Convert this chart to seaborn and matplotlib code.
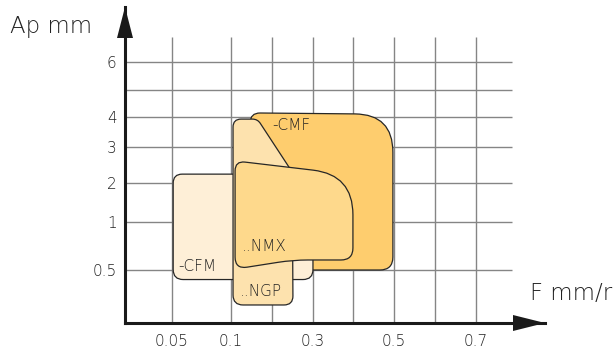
import numpy as np
import matplotlib
matplotlib.use("Agg")
import matplotlib.pyplot as plt
import seaborn as sns
from matplotlib.path import Path
from matplotlib.patches import PathPatch, Polygon

sns.set_theme(style="white")
plt.rcParams['font.family'] = ['DejaVu Sans']
plt.rcParams['font.weight'] = 'light'

# ---------------- data ----------------
feed_ticks = [0.05, 0.1, 0.3, 0.5, 0.7]
feed_tick_labels = ["0.05", "0.1", "0.3", "0.5", "0.7"]
depth_ticks = [0.5, 1, 2, 3, 4, 6]
depth_tick_labels = ["0.5", "1", "2", "3", "4", "6"]
feed_grid = [0.05, 0.1, 0.2, 0.3, 0.4, 0.5, 0.6, 0.7]
depth_grid = [0.5, 1, 2, 3, 4, 5, 6]

# application areas: outline corners (F mm/rev, Ap mm)
cmf_f = [0.147, 0.147, 0.497, 0.497]
cmf_ap = [0.5, 4.15, 4.1, 0.5]
cfm_f = [0.051, 0.051, 0.301, 0.301]
cfm_ap = [0.41, 2.24, 2.24, 0.41]
ngp_f = [0.105, 0.105, 0.165, 0.25, 0.252]
ngp_ap = [0.17, 3.93, 3.93, 2.3, 0.17]
nmx_f = [0.11, 0.11, 0.399, 0.399, 0.252]
nmx_ap = [0.51, 2.61, 2.22, 0.605, 0.605]

labels = ["-CMF", "-CFM", "..NGP", "..NMX"]
label_f = [0.201, 0.055, 0.122, 0.126]
label_ap = [3.73, 0.535, 0.295, 0.744]

# ---------------- scale (non-uniform axes of the original) ----------------
F_ANCH = [0.0, 0.05, 0.1, 0.87]
F_POS = [0.0, 47.0, 106.0, 420.0]
A_ANCH = [0.0, 0.5, 1, 2, 3, 4, 5, 6, 8]
A_POS = [0.0, 53.0, 100.7, 140.3, 176.0, 206.0, 233.3, 260.7, 316.0]


def fwd_x(v):
    return np.interp(v, F_ANCH, F_POS)


def inv_x(u):
    return np.interp(u, F_POS, F_ANCH)


def fwd_y(v):
    return np.interp(v, A_ANCH, A_POS)


def inv_y(u):
    return np.interp(u, A_POS, A_ANCH)


def rounded_path(fs, aps, radii):
    P = np.column_stack([fwd_x(np.asarray(fs, float)), fwd_y(np.asarray(aps, float))])
    n = len(P)
    verts, codes = [], []
    for i in range(n):
        p = P[i]
        prev = P[i - 1]
        nxt = P[(i + 1) % n]
        r = radii[i]
        d1 = prev - p
        d2 = nxt - p
        l1 = np.hypot(*d1)
        l2 = np.hypot(*d2)
        r1 = min(r, l1 / 2)
        r2 = min(r, l2 / 2)
        a = p + d1 / l1 * r1
        b = p + d2 / l2 * r2
        verts.append(a)
        codes.append(Path.MOVETO if i == 0 else Path.LINETO)
        verts += [p, b]
        codes += [Path.CURVE3, Path.CURVE3]
    verts.append(verts[0])
    codes.append(Path.CLOSEPOLY)
    V = np.array(verts)
    data = np.column_stack([inv_x(V[:, 0]), inv_y(V[:, 1])])
    return Path(data, codes)


fig = plt.figure(figsize=(6.16, 3.52), dpi=100)
ax = fig.add_axes([125 / 616, 29 / 352, 420 / 616, 316 / 352])
ax.set_xscale('function', functions=(fwd_x, inv_x))
ax.set_yscale('function', functions=(fwd_y, inv_y))
ax.set_xlim(0, 0.87)
ax.set_ylim(0, 8)
ax.set_facecolor('none')

grid_c = '#858585'
ax.vlines(feed_grid, 0, 6.9, color=grid_c, lw=1.0, zorder=1)
ax.hlines(depth_grid, 0, 0.79, color=grid_c, lw=1.0, zorder=1)

edge = '#262626'
shapes = [
    (cmf_f, cmf_ap, [6, 10, 38, 13], '#FECD6E'),
    (cfm_f, cfm_ap, [10, 9, 8, 10], '#FEEFD7'),
    (ngp_f, ngp_ap, [10, 8, 5, 4, 9], '#FDE2AE'),
    (nmx_f, nmx_ap, [12, 10, 40, 12, 15], '#FED98C'),
]
for z, (fs, aps, rads, col) in enumerate(shapes):
    ax.add_patch(PathPatch(rounded_path(fs, aps, rads), facecolor=col,
                           edgecolor=edge, lw=0.9, zorder=2 + z))

txt_c = '#222222'
for t, f, a in zip(labels, label_f, label_ap):
    ax.text(f, a, t, fontsize=11, color=txt_c, ha='left', va='center', zorder=10)

ax.set_xticks(feed_ticks, feed_tick_labels)
ax.set_yticks(depth_ticks, depth_tick_labels)
ax.minorticks_off()
ax.tick_params(axis='both', length=0, labelsize=11, labelcolor=txt_c)
ax.tick_params(axis='x', pad=8)
ax.tick_params(axis='y', pad=6)

for s in ['top', 'right']:
    ax.spines[s].set_visible(False)
for s in ['left', 'bottom']:
    ax.spines[s].set_color('#1a1a1a')
    ax.spines[s].set_linewidth(2.2)
    ax.spines[s].set_zorder(20)

# arrow heads
ax.add_patch(Polygon([[0, 1], [-8 / 420, (323 - 38) / 316], [8 / 420, (323 - 38) / 316]],
                     closed=True, transform=ax.transAxes, clip_on=False,
                     facecolor='#1a1a1a', edgecolor='none', zorder=21))
ax.add_patch(Polygon([[1, 0], [(513 - 125) / 420, 8 / 316], [(513 - 125) / 420, -8 / 316]],
                     closed=True, transform=ax.transAxes, clip_on=False,
                     facecolor='#1a1a1a', edgecolor='none', zorder=21))

fig.text(10 / 616, 1 - 26 / 352, "Ap mm", fontsize=16.5, color=txt_c, ha='left', va='center')
fig.text(530 / 616, 1 - 293 / 352, "F mm/r", fontsize=16.5, color=txt_c, ha='left', va='center')

fig.savefig("out.png", dpi=100)
